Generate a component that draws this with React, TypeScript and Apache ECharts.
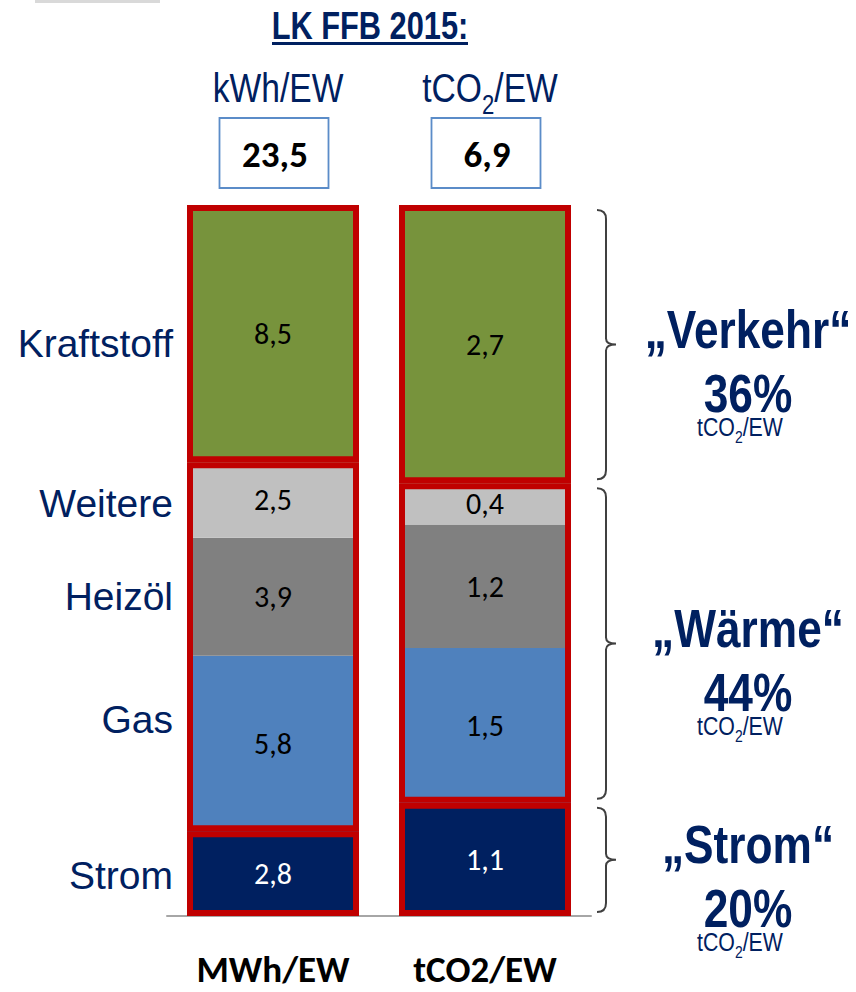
import React, { useEffect, useRef } from 'react';
import * as echarts from 'echarts';

const chartTitle = 'LK FFB 2015:';
const categories = ['MWh/EW', 'tCO2/EW'];
const headerUnits = ['kWh/EW', 'tCO2/EW'];
const segments = ['Strom', 'Gas', 'Heizöl', 'Weitere', 'Kraftstoff'];
const energyValues = [2.8, 5.8, 3.9, 2.5, 8.5];
const co2Values = [1.1, 1.5, 1.2, 0.4, 2.7];
const groupNames = ['„Strom“', '„Wärme“', '„Verkehr“'];
const groupMembers = [[0], [1, 2, 3], [4]];
const groupShares = ['20%', '44%', '36%'];
const groupUnit = 'tCO2/EW';

const segmentColors = ['#002060', '#4f81bd', '#808080', '#c0c0c0', '#77933c'];
const segmentLabelColors = ['#ffffff', '#000000', '#000000', '#000000', '#000000'];

const LIB = "'Liberation Sans', Arial, sans-serif";
const CALIBRI = "Carlito, Lato, 'Open Sans', sans-serif";
const NAVY = '#002060';
const NARROW_SCALE = 0.82;

const sum = (a: number[]) => a.reduce((s, v) => s + v, 0);
const fmt = (v: number) => v.toFixed(1).replace('.', ',');
const subRich = (s: string, tok: string) => `{${tok}|` + s.replace('CO2', `CO}{${tok}s|2}{${tok}|`) + '}';

export default function App() {
  const ref = useRef<HTMLDivElement>(null);
  useEffect(() => {
    document.body.style.margin = '0';
    if (!ref.current) return;
    const chart = echarts.init(ref.current, undefined, { renderer: 'svg' });
    const tE = sum(energyValues);
    const tC = sum(co2Values);
    const totals = [tE, tC];
    const pE = energyValues.map((v) => (v / tE) * 100);
    const pC = co2Values.map((v) => (v / tC) * 100);
    const raw = [energyValues, co2Values];
    const nameLabelOffsets = [2, -24, 0, 4, 10];

    const barW = 172;
    const fillSeries = segments.map((name, i) => ({
      name,
      type: 'bar',
      stack: 'fill',
      barWidth: barW,
      barGap: '-100%',
      data: [pE[i], pC[i]],
      itemStyle: { color: segmentColors[i] },
      label: {
        show: true,
        position: 'inside',
        formatter: (p: any) => fmt(raw[p.dataIndex][i]),
        color: segmentLabelColors[i],
        fontSize: 30,
        fontFamily: CALIBRI,
      },
      silent: true,
    }));

    const nameSeries = segments.map((name, i) => ({
      name: name + '-label',
      type: 'bar',
      stack: 'names',
      barWidth: barW,
      barGap: '-100%',
      data: [pE[i], '-'],
      itemStyle: { color: 'rgba(0,0,0,0)' },
      label: {
        show: true,
        position: 'left',
        distance: 14,
        offset: [0, nameLabelOffsets[i]],
        formatter: name,
        color: NAVY,
        fontSize: 39,
        fontFamily: LIB,
      },
      silent: true,
    }));

    const outlineSeries = groupNames.map((g, gi) => ({
      name: g,
      type: 'bar',
      stack: 'outline',
      barWidth: barW,
      barGap: '-100%',
      data: [sum(groupMembers[gi].map((m) => pE[m])), sum(groupMembers[gi].map((m) => pC[m]))],
      itemStyle: { color: 'rgba(0,0,0,0)', borderColor: '#c00000', borderWidth: 6 },
      silent: true,
    }));

    let acc = 0;
    const braceData = groupNames.map((g, gi) => {
      const v = sum(groupMembers[gi].map((m) => pC[m]));
      const row = [1, acc, acc + v, gi];
      acc += v;
      return row;
    });

    const braceSeries = {
      type: 'custom',
      silent: true,
      data: braceData,
      renderItem: (params: any, api: any) => {
        const cat = api.value(0);
        const s = api.value(1);
        const e = api.value(2);
        const gi = api.value(3);
        const pt = api.coord([cat, e]);
        const pb = api.coord([cat, s]);
        const x0 = pt[0] + barW / 2 + 26;
        const y1 = pt[1] + 5;
        const y2 = pb[1] - 4;
        const mid = (y1 + y2) / 2;
        const xv = x0 + 9;
        const xt = x0 + 19;
        const d = `M${x0},${y1} Q${xv},${y1} ${xv},${y1 + 9} L${xv},${mid - 6} Q${xv},${mid} ${xt},${mid} Q${xv},${mid} ${xv},${mid + 6} L${xv},${y2 - 9} Q${xv},${y2} ${x0},${y2}`;
        const cx = x0 + 151;
        return {
          type: 'group',
          children: [
            { type: 'path', shape: { pathData: d }, style: { fill: 'none', stroke: '#404040', lineWidth: 2 } },
            {
              type: 'text',
              x: cx,
              y: mid - 16,
              scaleX: NARROW_SCALE,
              style: { text: groupNames[gi], fill: NAVY, fontSize: 54, fontWeight: 'bold', fontFamily: LIB, align: 'center', verticalAlign: 'middle' },
            },
            {
              type: 'text',
              x: cx,
              y: mid + 48,
              scaleX: NARROW_SCALE,
              style: { text: groupShares[gi], fill: NAVY, fontSize: 54, fontWeight: 'bold', fontFamily: LIB, align: 'center', verticalAlign: 'middle' },
            },
            {
              type: 'text',
              x: cx - 8,
              y: mid + 82,
              scaleX: NARROW_SCALE,
              style: {
                text: subRich(groupUnit, 'a'),
                align: 'center',
                verticalAlign: 'middle',
                rich: {
                  a: { fill: NAVY, fontSize: 26, fontFamily: LIB, lineHeight: 38, align: 'center' },
                  as: { fill: NAVY, fontSize: 17, fontFamily: LIB, verticalAlign: 'bottom', align: 'center' },
                },
              },
            },
          ],
        };
      },
    };

    const headerSeries = {
      type: 'custom',
      silent: true,
      data: categories.map((c, i) => [i, 100, i]),
      renderItem: (params: any, api: any) => {
        const cat = api.value(0);
        const idx = api.value(2);
        const p = api.coord([cat, 100]);
        const cx = p[0] + 1;
        const top = p[1];
        return {
          type: 'group',
          children: [
            {
              type: 'rect',
              shape: { x: cx - 54.5, y: top - 87, width: 109, height: 70 },
              style: { fill: '#fff', stroke: '#5b8cc8', lineWidth: 1.8 },
            },
            {
              type: 'text',
              x: cx + 1,
              y: top - 51,
              style: { text: fmt(totals[idx]), fill: '#000', fontSize: 37, fontWeight: 'bold', fontFamily: CALIBRI, align: 'center', verticalAlign: 'middle' },
            },
            {
              type: 'text',
              x: cx + 4,
              y: top - 117,
              scaleX: NARROW_SCALE,
              style: {
                text: subRich(headerUnits[idx], 'u'),
                align: 'center',
                verticalAlign: 'middle',
                rich: {
                  u: { fill: NAVY, fontSize: 41, fontFamily: LIB, lineHeight: 60, align: 'center' },
                  us: { fill: NAVY, fontSize: 27, fontFamily: LIB, verticalAlign: 'bottom', align: 'center' },
                },
              },
            },
          ],
        };
      },
    };

    chart.setOption({
      animation: false,
      graphic: [
        { type: 'rect', shape: { x: 35, y: 0, width: 125, height: 3 }, style: { fill: '#d9d9d9' } },
        {
          type: 'text',
          x: 370,
          y: 26,
          scaleX: 0.81,
          style: { text: chartTitle, fill: NAVY, fontSize: 38, fontWeight: 'bold', fontFamily: LIB, align: 'center', verticalAlign: 'middle' },
        },
        { type: 'rect', shape: { x: 272, y: 42, width: 196, height: 3 }, style: { fill: NAVY } },
      ],
      grid: { left: 167, right: 265, top: 205, bottom: 76 },
      xAxis: {
        type: 'category',
        data: categories,
        axisLine: { lineStyle: { color: '#a6a6a6', width: 2 } },
        axisTick: { show: false },
        axisLabel: { interval: 0, color: '#000', fontSize: 37, fontWeight: 'bold', fontFamily: CALIBRI, margin: 33, lineHeight: 40 },
      },
      yAxis: { type: 'value', min: 0, max: 100, show: false },
      series: [...fillSeries, ...nameSeries, ...outlineSeries, braceSeries, headerSeries],
    });
    return () => chart.dispose();
  }, []);
  return <div ref={ref} style={{ width: 856, height: 992 }} />;
}
